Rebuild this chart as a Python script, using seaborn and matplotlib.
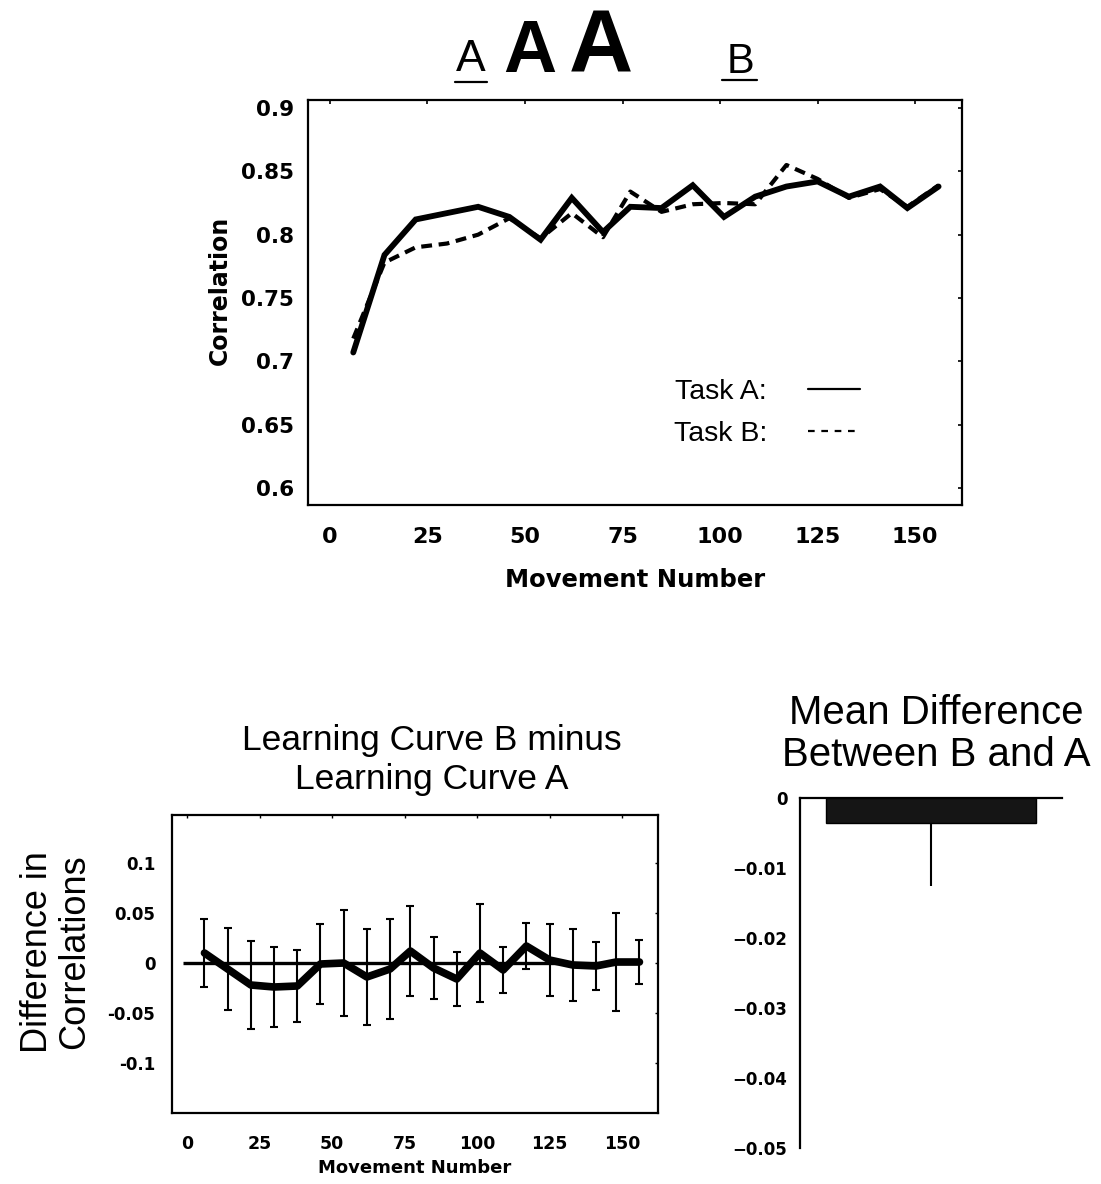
import matplotlib
matplotlib.use("Agg")
import matplotlib.pyplot as plt
from matplotlib.lines import Line2D
import seaborn as sns
import pandas as pd
import numpy as np

# ---------------- data ----------------
movement = [6, 14, 22, 30, 38, 46, 54, 62, 70, 77, 85, 93, 101, 109, 117, 125, 133, 141, 148, 156]
task_a = [0.707, 0.784, 0.812, 0.817, 0.822, 0.814, 0.796, 0.829, 0.802, 0.822,
          0.821, 0.839, 0.814, 0.830, 0.838, 0.842, 0.830, 0.838, 0.821, 0.838]
task_b = [0.718, 0.778, 0.790, 0.793, 0.800, 0.813, 0.797, 0.817, 0.798, 0.834,
          0.818, 0.824, 0.825, 0.824, 0.855, 0.844, 0.829, 0.836, 0.822, 0.839]

diff_mean = [0.010, -0.006, -0.022, -0.024, -0.023, -0.001, 0.000, -0.014, -0.006, 0.012,
             -0.005, -0.016, 0.010, -0.007, 0.017, 0.003, -0.002, -0.003, 0.001, 0.001]
diff_err = [0.034, 0.041, 0.044, 0.040, 0.036, 0.040, 0.053, 0.048, 0.050, 0.045,
            0.031, 0.027, 0.049, 0.023, 0.023, 0.036, 0.036, 0.024, 0.049, 0.022]

bar_category = ["B - A"]
bar_mean = [-0.0035]
bar_err = [0.009]

top_yticks = [0.6, 0.65, 0.7, 0.75, 0.8, 0.85, 0.9]
top_yticklabels = ["0.6", "0.65", "0.7", "0.75", "0.8", "0.85", "0.9"]
xticks = [0, 25, 50, 75, 100, 125, 150]
diff_yticks = [-0.1, -0.05, 0, 0.05, 0.1]
diff_yticklabels = ["-0.1", "-0.05", "0", "0.05", "0.1"]
bar_yticks = [0, -0.01, -0.02, -0.03, -0.04, -0.05]
bar_yticklabels = ["0", "\u22120.01", "\u22120.02", "\u22120.03", "\u22120.04", "\u22120.05"]

# ---------------- style ----------------
sns.set_theme(style="white")
plt.rcParams["font.family"] = ["DejaVu Sans"]
plt.rcParams["axes.linewidth"] = 1.6
plt.rcParams["axes.edgecolor"] = "black"
plt.rcParams["text.color"] = "black"
plt.rcParams["axes.labelcolor"] = "black"
plt.rcParams["axes.titlecolor"] = "black"
plt.rcParams["xtick.color"] = "black"
plt.rcParams["ytick.color"] = "black"

W, H = 1101, 1184
fig = plt.figure(figsize=(W / 100, H / 100), dpi=100)


def px_axes(left, top, right, bottom):
    return fig.add_axes([left / W, 1 - bottom / H, (right - left) / W, (bottom - top) / H])


BOLD = dict(family="DejaVu Sans", weight="bold")
REG = "Liberation Sans"

# ---------------- top chart ----------------
ax1 = px_axes(308, 100, 962, 505)
df = pd.DataFrame({"movement": movement, "A": task_a, "B": task_b})
sns.lineplot(data=df, x="movement", y="B", ax=ax1, color="black", lw=3.0,
             linestyle=(0, (2.6, 1.6)))
sns.lineplot(data=df, x="movement", y="A", ax=ax1, color="black", lw=4.2,
             solid_joinstyle="miter")
ax1.set_xlim(-5.6, 162)
ax1.set_ylim(0.5866, 0.9063)
ax1.set_xticks(xticks)
ax1.set_xticklabels([str(t) for t in xticks], fontsize=16, **BOLD)
ax1.set_yticks(top_yticks)
ax1.set_yticklabels(top_yticklabels, fontsize=15.5, **BOLD)
ax1.tick_params(axis="x", direction="in", length=3, width=1.2, pad=16, top=True)
ax1.tick_params(axis="y", direction="in", length=3, width=1.2, pad=10, right=True)
ax1.set_xlabel("Movement Number", fontsize=17.5, labelpad=15, **BOLD)
ax1.set_ylabel("Correlation", fontsize=17, **BOLD)
ax1.yaxis.set_label_coords(-0.116, 0.53)
for s in ax1.spines.values():
    s.set_visible(True)

handles = [Line2D([], [], color="black", lw=1.6),
           Line2D([], [], color="black", lw=1.6, linestyle=(0, (3, 3)))]
leg = ax1.legend(handles, ["Task A:", "Task B:"], loc="center left",
                 bbox_to_anchor=((648 - 308) / 654, (505 - 413) / 405),
                 frameon=False, markerfirst=False, handlelength=1.8,
                 handletextpad=1.45, labelspacing=0.55,
                 prop={"family": REG, "size": 20.5})

# letters above top chart
def ftext(x, y, s, size, weight="normal"):
    fig.text(x / W, 1 - y / H, s, ha="center", va="baseline", fontsize=size,
             family=REG, weight=weight, color="black")

ftext(471, 71, "A", 32)
ftext(530, 72, "A", 53, "bold")
ftext(601, 72, "A", 64, "bold")
ftext(740, 73, "B", 30)
fig.add_artist(Line2D([455 / W, 487 / W], [1 - 82 / H, 1 - 82 / H], color="black", lw=1.6))
fig.add_artist(Line2D([722 / W, 757 / W], [1 - 80 / H, 1 - 80 / H], color="black", lw=1.6))

# ---------------- bottom-left chart ----------------
ax2 = px_axes(172, 815, 658, 1113)
ddf = pd.DataFrame({"movement": movement, "diff": diff_mean, "err": diff_err})
ax2.hlines(0, -1.5, movement[-1], color="black", lw=2.4)
ax2.errorbar(ddf["movement"], ddf["diff"], yerr=ddf["err"], fmt="none",
             ecolor="black", elinewidth=1.5, capsize=3, capthick=1.5)
sns.lineplot(data=ddf, x="movement", y="diff", ax=ax2, color="black", lw=5.5)
ax2.set_xlim(-5.2, 162.4)
ax2.set_ylim(-0.15, 0.148)
ax2.set_xticks(xticks)
ax2.set_xticklabels([str(t) for t in xticks], fontsize=12.5, **BOLD)
ax2.set_yticks(diff_yticks)
ax2.set_yticklabels(diff_yticklabels, fontsize=12, **BOLD)
ax2.tick_params(axis="x", direction="in", length=2.5, width=1.0, pad=16, top=True)
ax2.tick_params(axis="y", direction="in", length=2.5, width=1.0, pad=12, right=True)
ax2.set_xlabel("Movement Number", fontsize=13, labelpad=4, **BOLD)
ax2.set_ylabel("Difference in\nCorrelations", fontsize=26, family=REG, linespacing=1.05)
ax2.yaxis.set_label_coords(-0.165, 0.54)
ax2.set_title("Learning Curve B minus\nLearning Curve A", fontsize=25.5, family=REG,
              x=0.535, pad=19, linespacing=1.22)
for s in ax2.spines.values():
    s.set_visible(True)

# ---------------- bar chart ----------------
ax3 = px_axes(800, 798, 1062, 1148)
bdf = pd.DataFrame({"cat": bar_category, "mean": bar_mean})
sns.barplot(data=bdf, x="cat", y="mean", ax=ax3, color="#151515", width=0.8,
            edgecolor="black", saturation=1)
ax3.errorbar([0], bdf["mean"], yerr=[bar_err, [0]], fmt="none", ecolor="black",
             elinewidth=1.5, capsize=0)
ax3.set_xlim(-0.5, 0.5)
ax3.set_ylim(-0.05, 0)
ax3.set_xticks([])
ax3.set_xlabel("")
ax3.set_ylabel("")
ax3.set_yticks(bar_yticks)
ax3.set_yticklabels(bar_yticklabels, fontsize=12, **BOLD)
ax3.tick_params(axis="y", length=0, pad=9)
ax3.spines["right"].set_visible(False)
ax3.spines["bottom"].set_visible(False)
ax3.spines["top"].set_visible(True)
ax3.spines["left"].set_visible(True)
ax3.set_title("Mean Difference\nBetween B and A", fontsize=29, family=REG,
              x=0.52, pad=23, linespacing=1.12)

fig.savefig("out.png", dpi=100, facecolor="white")
